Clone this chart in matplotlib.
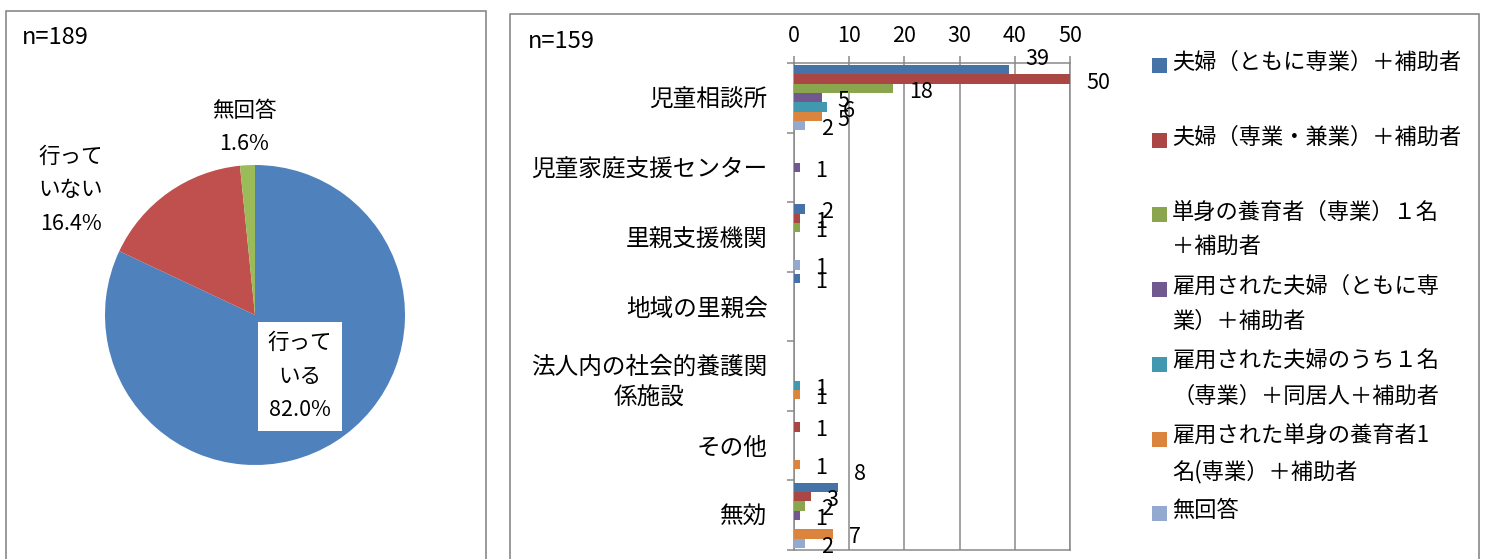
import numpy as np
import matplotlib
matplotlib.use("Agg")
import matplotlib.pyplot as plt
from matplotlib.patches import Rectangle

plt.rcParams["font.family"] = ["Noto Sans CJK JP", "DejaVu Sans"]

# pie data (n=189)
pie_labels = ["行って\nいる", "行って\nいない", "無回答"]
pie_values = [82.0, 16.4, 1.6]
pie_colors = ["#4F81BD", "#C0504D", "#9BBB59"]

# bar data (n=159)
categories = [
    "児童相談所",
    "児童家庭支援センター",
    "里親支援機関",
    "地域の里親会",
    "法人内の社会的養護関\n係施設",
    "その他",
    "無効",
]
series_names = [
    "夫婦（ともに専業）＋補助者",
    "夫婦（専業・兼業）＋補助者",
    "単身の養育者（専業）１名\n＋補助者",
    "雇用された夫婦（ともに専\n業）＋補助者",
    "雇用された夫婦のうち１名\n（専業）＋同居人＋補助者",
    "雇用された単身の養育者1\n名(専業）＋補助者",
    "無回答",
]
series_values = [
    [39, 0, 2, 1, 0, 0, 8],
    [50, 0, 1, 0, 0, 1, 3],
    [18, 0, 1, 0, 0, 0, 2],
    [5, 1, 0, 0, 0, 0, 1],
    [6, 0, 0, 0, 1, 0, 0],
    [5, 0, 0, 0, 1, 1, 7],
    [2, 0, 1, 0, 0, 0, 2],
]
series_colors = ["#4572A7", "#AA4643", "#89A54E", "#71588F", "#4198AF", "#DB843D", "#93A9CF"]

W, H = 1486, 559
GRAY = "#898989"


def px_rect(left, top, right, bottom):
    return [left / W, 1 - bottom / H, (right - left) / W, (bottom - top) / H]


fig = plt.figure(figsize=(W / 100, H / 100), dpi=100)

# panel frames (bottom edges run off the image)
for l, t, r in [(5.5, 11, 486), (510, 14, 1479)]:
    fig.add_artist(Rectangle((l / W, -0.1), (r - l) / W, 1.1 - t / H,
                             transform=fig.transFigure, fill=False,
                             edgecolor=GRAY, lw=1.2))

fig.text(22 / W, 1 - 38 / H, "n=189", fontsize=17, va="center")
fig.text(528 / W, 1 - 42 / H, "n=159", fontsize=17, va="center")

# ---- pie ----
ax1 = fig.add_axes(px_rect(105, 165, 405, 465))
ax1.pie(pie_values, colors=pie_colors, startangle=90, counterclock=False,
        wedgeprops=dict(linewidth=0))
ax1.set_xlim(-1, 1)
ax1.set_ylim(-1, 1)

# label anchors in data units of the pie (radius 1)
pie_label_pos = [(0.30, -0.41), (-1.23, 0.83), (-0.07, 1.25)]
for i, (lab, v) in enumerate(zip(pie_labels, pie_values)):
    x, y = pie_label_pos[i]
    bbox = dict(boxstyle="square,pad=0.45", fc="white", ec="none") if i == 0 else None
    ax1.text(x, y, f"{lab}\n{v:.1f}%", ha="center", va="center",
             multialignment="center", fontsize=15.5, linespacing=1.7,
             bbox=bbox, clip_on=False)

# ---- bars ----
ax2 = fig.add_axes(px_rect(794, 63, 1070, 550))
y = np.arange(len(categories))
group = 0.94
h = group / len(series_names)

# a couple of labels sit higher in the original
nudges = {(0, 0): 10, (0, 6): 12}

for i, (vals, color) in enumerate(zip(series_values, series_colors)):
    yy = y - group / 2 + (i + 0.5) * h
    ax2.barh(yy, vals, height=h, color=color, zorder=3)
    for j, v in enumerate(vals):
        if v == 0:
            continue
        dy = -2.5 + nudges.get((i, j), 0)
        ax2.annotate(str(v), xy=(v, yy[j]), xytext=(11.5, dy),
                     textcoords="offset points", ha="left", va="center",
                     fontsize=15.5, annotation_clip=False)

ax2.set_xlim(0, 50)
ax2.set_ylim(len(categories) - 0.5, -0.5)
ax2.xaxis.tick_top()
ax2.set_xticks(range(0, 51, 10))
ax2.tick_params(axis="x", length=5, color=GRAY, width=1.1, pad=6.5, labelsize=15.5)
ax2.set_yticks(y, labels=categories)
for t in ax2.get_yticklabels():
    t.set_multialignment("center")
    t.set_linespacing(1.45)
ax2.tick_params(axis="y", which="major", length=0, pad=19, labelsize=17)
ax2.set_yticks(np.arange(-0.5, len(categories), 1), minor=True)
ax2.tick_params(axis="y", which="minor", length=5, color=GRAY, width=1.1)
ax2.grid(axis="x", color=GRAY, lw=1.1, zorder=0)
ax2.set_axisbelow(True)
for s in ax2.spines.values():
    s.set_color(GRAY)
    s.set_linewidth(1.1)

# ---- legend ----
for i, (name, color) in enumerate(zip(series_names, series_colors)):
    yc = 62 + i * 74.7
    fig.add_artist(Rectangle((1152 / W, 1 - (yc + 11) / H), 15 / W, 15 / H,
                             transform=fig.transFigure, color=color, lw=0))
    fig.text(1172 / W, 1 - (yc - 11) / H, name, fontsize=16, va="top",
             ha="left", linespacing=1.65)

fig.savefig("out.png", dpi=100)
